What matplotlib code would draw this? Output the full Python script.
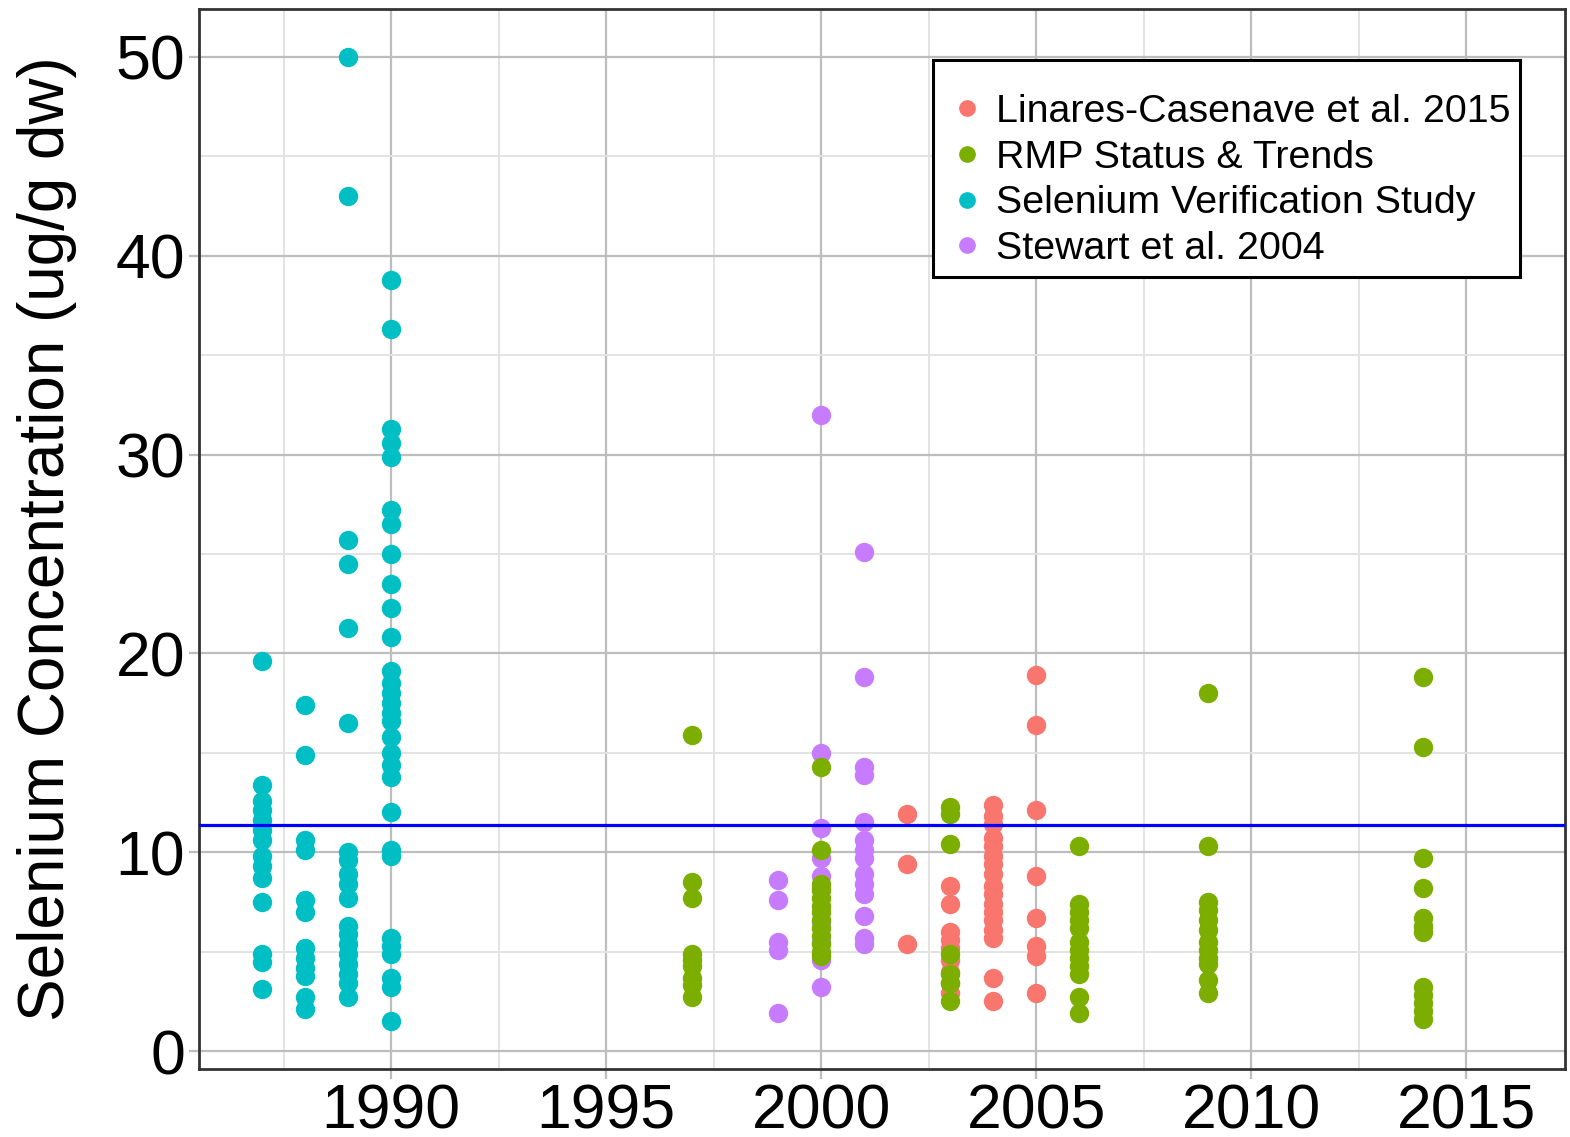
import matplotlib.pyplot as plt
from matplotlib.ticker import MultipleLocator
from matplotlib.lines import Line2D

plt.rcParams['font.family'] = ['Liberation Sans', 'DejaVu Sans']

# Selenium concentration (ug/g dw) by year, one dict per study
linares = {
    2002: [11.9, 9.4, 5.4],
    2003: [8.3, 7.4, 6.0, 5.6, 5.2, 4.6, 4.0, 3.4, 2.9],
    2004: [12.4, 11.8, 11.4, 10.7, 10.3, 9.8, 9.4, 8.9, 8.3, 7.9, 7.4, 7.0,
           6.6, 6.1, 5.7, 3.7, 2.5],
    2005: [18.9, 16.4, 12.1, 8.8, 6.7, 5.3, 4.8, 2.9],
}
rmp = {
    1997: [15.9, 8.5, 7.7, 4.9, 4.6, 4.3, 3.7, 3.3, 2.7],
    2000: [14.3, 10.1, 8.4, 8.1, 7.7, 7.3, 7.0, 6.6, 6.2, 5.8, 5.4, 5.0, 4.8],
    2003: [12.3, 11.9, 10.4, 4.9, 3.9, 3.4, 2.5],
    2006: [10.3, 7.4, 7.0, 6.6, 6.2, 5.5, 5.1, 4.7, 4.3, 3.9, 2.7, 1.9],
    2009: [18.0, 10.3, 7.5, 7.1, 6.6, 6.1, 5.5, 5.1, 4.7, 4.4, 3.6, 2.9],
    2014: [18.8, 15.3, 9.7, 8.2, 6.7, 6.3, 6.0, 3.2, 2.8, 2.4, 2.0, 1.6],
}
verification = {
    1987: [19.6, 13.4, 12.6, 12.1, 11.6, 11.1, 10.6, 9.8, 9.3, 8.7, 7.5, 4.9,
           4.5, 3.1],
    1988: [17.4, 14.9, 10.6, 10.1, 7.6, 7.0, 5.2, 4.7, 4.2, 3.8, 2.7, 2.1],
    1989: [50.0, 43.0, 25.7, 24.5, 21.3, 16.5, 10.0, 9.6, 8.9, 8.4, 7.7, 6.3,
           5.9, 5.4, 4.9, 4.4, 3.9, 3.4, 2.7],
    1990: [38.8, 36.3, 31.3, 30.6, 29.9, 27.2, 26.5, 25.0, 23.5, 22.3, 20.8,
           19.1, 18.5, 18.0, 17.5, 17.0, 16.6, 15.8, 15.0, 14.4, 13.8, 12.0,
           10.1, 9.8, 5.7, 5.3, 4.9, 3.7, 3.2, 1.5],
}
stewart = {
    1999: [8.6, 7.6, 5.5, 5.1, 1.9],
    2000: [32.0, 15.0, 11.2, 9.7, 8.8, 8.2, 6.5, 5.5, 4.6, 3.2],
    2001: [25.1, 18.8, 14.3, 13.9, 11.5, 10.6, 10.1, 9.7, 8.9, 8.4, 7.9, 6.8,
           5.7, 5.4],
}
threshold = 11.35

series = [
    ('Linares-Casenave et al. 2015', linares, '#F8766D'),
    ('RMP Status & Trends', rmp, '#7CAE00'),
    ('Selenium Verification Study', verification, '#00BFC4'),
    ('Stewart et al. 2004', stewart, '#C77CFF'),
]
draw_order = [0, 3, 2, 1]

fig = plt.figure(figsize=(15.7, 11.37), dpi=100)
ax = fig.add_axes([0.1268, 0.0598, 0.87, 0.9322])

for i in draw_order:
    label, data, color = series[i]
    xs = [yr for yr, vals in data.items() for _ in vals]
    ys = [v for vals in data.values() for v in vals]
    ax.scatter(xs, ys, s=195, color=color, linewidths=0, zorder=3)

ax.axhline(threshold, color='blue', lw=2.3, zorder=4)

ax.set_xlim(1985.53, 2017.3)
ax.set_ylim(-0.9, 52.4)
ax.xaxis.set_major_locator(MultipleLocator(5))
ax.xaxis.set_minor_locator(MultipleLocator(2.5))
ax.yaxis.set_major_locator(MultipleLocator(10))
ax.yaxis.set_minor_locator(MultipleLocator(5))
ax.set_xticks(range(1990, 2016, 5))

ax.grid(True, which='major', color='#BDBDBD', lw=1.6, zorder=0)
ax.grid(True, which='minor', color='#E3E3E3', lw=1.4, zorder=0)
ax.set_axisbelow(True)

for sp in ax.spines.values():
    sp.set_color('#333333')
    sp.set_linewidth(2.0)

ax.tick_params(axis='both', which='major', length=7, width=1.6, color='#BDBDBD',
               labelsize=45, labelcolor='black', pad=3)
ax.tick_params(axis='both', which='minor', length=0)

ax.set_ylabel('Selenium Concentration (ug/g dw)', fontsize=46, labelpad=28)

handles = [Line2D([], [], marker='o', ls='none', color=c, markersize=11)
           for _, _, c in series]
labels = [lab for lab, _, _ in series]
leg = ax.legend(handles, labels, loc='upper left', bbox_to_anchor=(0.5373, 0.952),
                fontsize=28.4, frameon=True, fancybox=False, borderpad=0.25,
                handletextpad=0.15, labelspacing=0.25, handlelength=1.2,
                borderaxespad=0, title=' ', title_fontsize=11)
leg.get_frame().set_edgecolor('black')
leg.get_frame().set_linewidth(2.2)
leg.get_frame().set_alpha(1)

fig.savefig('out.png', dpi=100)
